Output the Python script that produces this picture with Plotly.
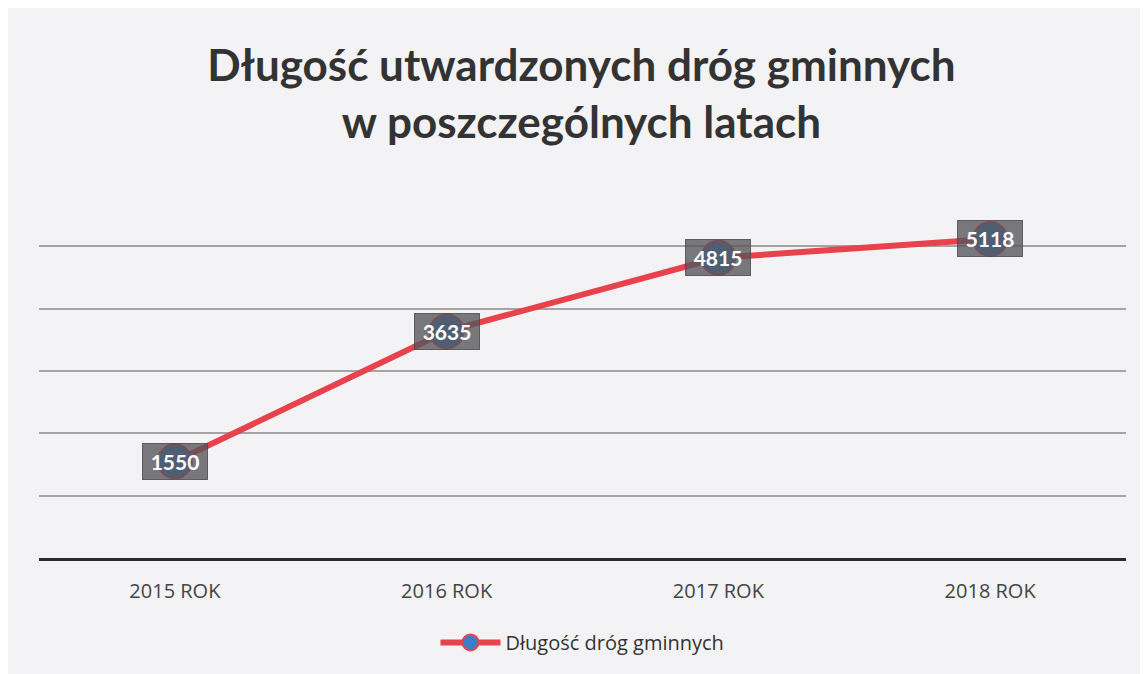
import plotly.graph_objects as go

categories = ["2015 ROK", "2016 ROK", "2017 ROK", "2018 ROK"]
values = [1550, 3635, 4815, 5118]
series_name = "Długość dróg gminnych"
title_text = "<b>Długość utwardzonych dróg gminnych<br>w poszczególnych latach</b>"

fig = go.Figure()
fig.add_trace(go.Scatter(
    x=categories, y=values, mode="lines+markers", name=series_name,
    line=dict(color="#e8424c", width=6),
    marker=dict(size=34, color="#3c7fc8", line=dict(color="#e8424c", width=2)),
    showlegend=True,
))

for c, v in zip(categories, values):
    fig.add_annotation(
        x=c, y=v, text=f"<b>{v}</b>", showarrow=False,
        font=dict(family="Lato, Open Sans, sans-serif", size=21, color="white"),
        bgcolor="rgba(85,85,90,0.78)", borderpad=4, width=56, height=27,
        bordercolor="rgba(70,70,70,0.8)", borderwidth=1,
    )

fig.update_layout(
    width=1140, height=666,
    paper_bgcolor="#f3f3f5", plot_bgcolor="rgba(0,0,0,0)",
    margin=dict(l=31, r=22, t=175, b=116, autoexpand=False),
    title=dict(text=title_text, x=0.503, xanchor="center", y=0.891, yanchor="middle",
               font=dict(family="Lato, Open Sans, sans-serif", size=44, color="#333333")),
    xaxis=dict(showgrid=False, showline=True, linecolor="#2a2a2a", linewidth=3,
               range=[-0.5, 3.5],
               tickfont=dict(family="Open Sans, sans-serif", size=20, color="#444444"),
               ticks="", ticklabelstandoff=13),
    yaxis=dict(range=[0, 6015], dtick=1000, showticklabels=False, showgrid=True,
               gridcolor="#a4a4a8", gridwidth=1.5, zeroline=False),
    legend=dict(orientation="h", x=0.5, xanchor="center", y=-0.225, yanchor="middle",
                itemwidth=60,
                font=dict(family="Open Sans, sans-serif", size=20, color="#333333")),
)

fig.write_html("out.html")
